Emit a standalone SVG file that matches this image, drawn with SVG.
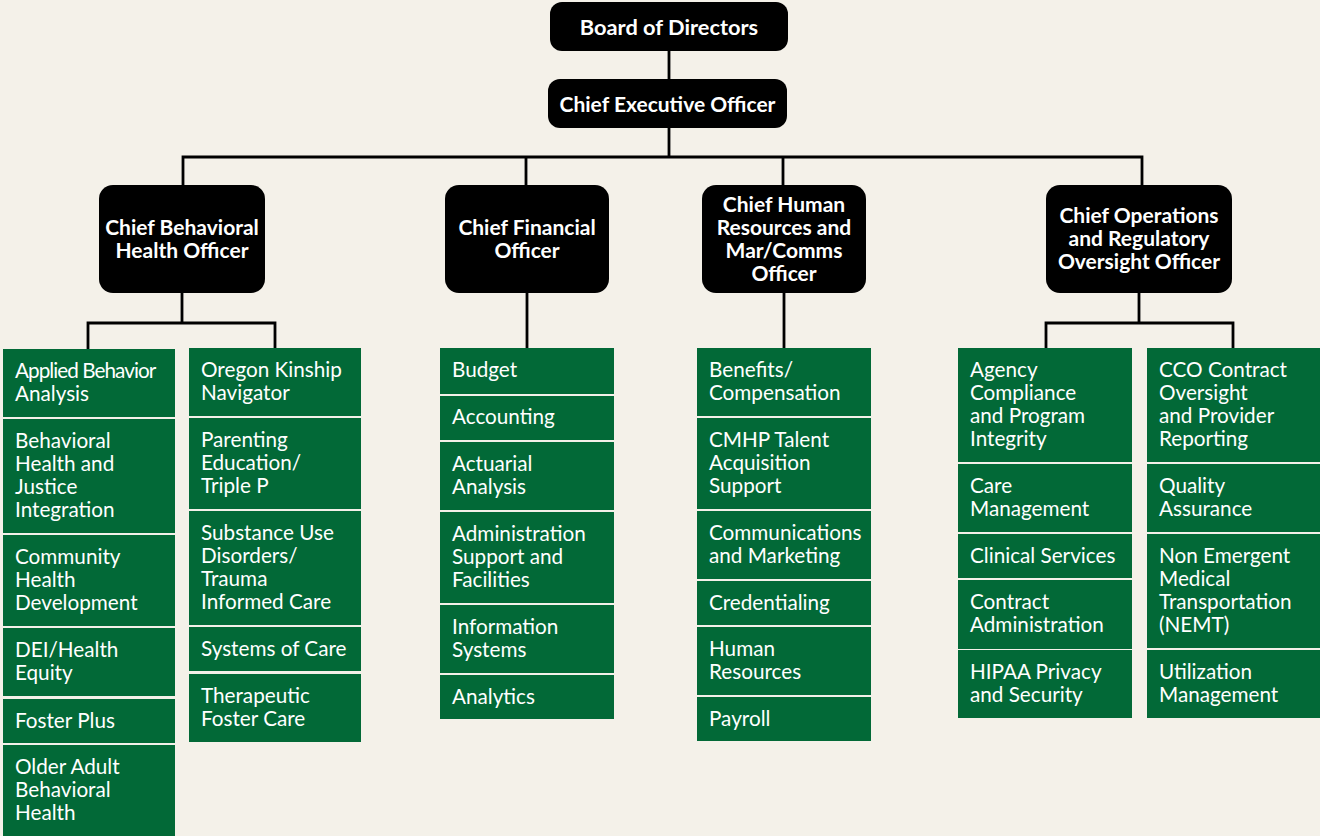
<svg xmlns="http://www.w3.org/2000/svg" width="1320" height="836" viewBox="0 0 1320 836">
<style>
.bg{fill:#F4F1E9}
.exec{fill:#000}
.et{font-family:Lato,"Liberation Sans",sans-serif;font-weight:700;font-size:21px;fill:#fff;text-anchor:middle}
.dept{fill:#026937}
.dt{font-family:Lato,"Liberation Sans",sans-serif;font-weight:400;font-size:20.7px;fill:#fff}
.conn{fill:none;stroke:#000;stroke-width:2.8;stroke-linecap:square;stroke-linejoin:miter}
</style>
<rect class="bg" x="0" y="0" width="1320" height="836"/>
<g id="connectors">
<path class="conn" d="M669 51V79 M669 128V157 M183 157H1142 M183 157V185 M526 157V185 M783 157V185 M1142 157V185"/>
<path class="conn" d="M182 293V323 M88 323H275 M88 323V348 M275 323V348"/>
<path class="conn" d="M527 293V348"/>
<path class="conn" d="M784 293V348"/>
<path class="conn" d="M1139 293V323 M1046 323H1233 M1046 323V348 M1233 323V348"/>
</g>
<g id="board"><rect class="exec" x="550" y="2" width="238" height="49" rx="12"/><text class="et" x="669" y="34.5" style="font-size:21.8px">Board of Directors</text></g>
<g id="ceo"><rect class="exec" x="548" y="79" width="239" height="49" rx="12"/><text class="et" x="667.5" y="111.5">Chief Executive Officer</text></g>
<g id="cbho"><rect class="exec" x="99" y="185" width="166" height="108" rx="14"/><text class="et" x="182" y="235">Chief Behavioral</text><text class="et" x="182" y="258">Health Officer</text></g>
<g id="cfo"><rect class="exec" x="445" y="185" width="164" height="108" rx="14"/><text class="et" x="527" y="235">Chief Financial</text><text class="et" x="527" y="258">Officer</text></g>
<g id="chro"><rect class="exec" x="702" y="185" width="164" height="108" rx="14"/><text class="et" x="784" y="212">Chief Human</text><text class="et" x="784" y="235">Resources and</text><text class="et" x="784" y="258">Mar/Comms</text><text class="et" x="784" y="281">Officer</text></g>
<g id="coro"><rect class="exec" x="1046" y="185" width="186" height="108" rx="14"/><text class="et" x="1139" y="223">Chief Operations</text><text class="et" x="1139" y="246">and Regulatory</text><text class="et" x="1139" y="269">Oversight Officer</text></g>

<g id="aba"><rect class="dept" x="3" y="349" width="172" height="68"/><text class="dt" x="15" y="377.5" letter-spacing="-0.95">Applied Behavior</text><text class="dt" x="15" y="400.5">Analysis</text></g>
<g id="bhji"><rect class="dept" x="3" y="419" width="172" height="114"/><text class="dt" x="15" y="447.5">Behavioral</text><text class="dt" x="15" y="470.5">Health and</text><text class="dt" x="15" y="493.5">Justice</text><text class="dt" x="15" y="516.5">Integration</text></g>
<g id="chd"><rect class="dept" x="3" y="535" width="172" height="91"/><text class="dt" x="15" y="563.5">Community</text><text class="dt" x="15" y="586.5">Health</text><text class="dt" x="15" y="609.5">Development</text></g>
<g id="dei"><rect class="dept" x="3" y="628" width="172" height="68"/><text class="dt" x="15" y="656.5">DEI/Health</text><text class="dt" x="15" y="679.5">Equity</text></g>
<g id="fp"><rect class="dept" x="3" y="699" width="172" height="44"/><text class="dt" x="15" y="727.5">Foster Plus</text></g>
<g id="oabh"><rect class="dept" x="3" y="745" width="172" height="91"/><text class="dt" x="15" y="773.5">Older Adult</text><text class="dt" x="15" y="796.5">Behavioral</text><text class="dt" x="15" y="819.5">Health</text></g>

<g id="okn"><rect class="dept" x="189" y="348" width="172" height="68"/><text class="dt" x="201" y="376.5">Oregon Kinship</text><text class="dt" x="201" y="399.5">Navigator</text></g>
<g id="pe"><rect class="dept" x="189" y="418" width="172" height="91"/><text class="dt" x="201" y="446.5">Parenting</text><text class="dt" x="201" y="469.5">Education/</text><text class="dt" x="201" y="492.5">Triple P</text></g>
<g id="sud"><rect class="dept" x="189" y="511" width="172" height="114"/><text class="dt" x="201" y="539.5">Substance Use</text><text class="dt" x="201" y="562.5">Disorders/</text><text class="dt" x="201" y="585.5">Trauma</text><text class="dt" x="201" y="608.5">Informed Care</text></g>
<g id="soc"><rect class="dept" x="189" y="627" width="172" height="44"/><text class="dt" x="201" y="655.5">Systems of Care</text></g>
<g id="tfc"><rect class="dept" x="189" y="674" width="172" height="68"/><text class="dt" x="201" y="702.5">Therapeutic</text><text class="dt" x="201" y="725.5">Foster Care</text></g>

<g id="budget"><rect class="dept" x="440" y="348" width="174" height="46"/><text class="dt" x="452" y="376.5">Budget</text></g>
<g id="accounting"><rect class="dept" x="440" y="396" width="174" height="44"/><text class="dt" x="452" y="424">Accounting</text></g>
<g id="actuarial"><rect class="dept" x="440" y="442" width="174" height="68"/><text class="dt" x="452" y="470.5">Actuarial</text><text class="dt" x="452" y="493.5">Analysis</text></g>
<g id="admin"><rect class="dept" x="440" y="512" width="174" height="91"/><text class="dt" x="452" y="540.5">Administration</text><text class="dt" x="452" y="563.5">Support and</text><text class="dt" x="452" y="586.5">Facilities</text></g>
<g id="infosys"><rect class="dept" x="440" y="605" width="174" height="68"/><text class="dt" x="452" y="633.5">Information</text><text class="dt" x="452" y="656.5">Systems</text></g>
<g id="analytics"><rect class="dept" x="440" y="675" width="174" height="44"/><text class="dt" x="452" y="703.5">Analytics</text></g>

<g id="benefits"><rect class="dept" x="697" y="348" width="174" height="68"/><text class="dt" x="709" y="376.5">Benefits/</text><text class="dt" x="709" y="399.5">Compensation</text></g>
<g id="cmhp"><rect class="dept" x="697" y="418" width="174" height="91"/><text class="dt" x="709" y="446.5">CMHP Talent</text><text class="dt" x="709" y="469.5">Acquisition</text><text class="dt" x="709" y="492.5">Support</text></g>
<g id="comms"><rect class="dept" x="697" y="511" width="174" height="68"/><text class="dt" x="709" y="539.5">Communications</text><text class="dt" x="709" y="562.5">and Marketing</text></g>
<g id="cred"><rect class="dept" x="697" y="581" width="174" height="44"/><text class="dt" x="709" y="609.5">Credentialing</text></g>
<g id="hr"><rect class="dept" x="697" y="627" width="174" height="68"/><text class="dt" x="709" y="655.5">Human</text><text class="dt" x="709" y="678.5">Resources</text></g>
<g id="payroll"><rect class="dept" x="697" y="697" width="174" height="44"/><text class="dt" x="709" y="725.5">Payroll</text></g>

<g id="acpi"><rect class="dept" x="958" y="348" width="174" height="114"/><text class="dt" x="970" y="376.5">Agency</text><text class="dt" x="970" y="399.5">Compliance</text><text class="dt" x="970" y="422.5">and Program</text><text class="dt" x="970" y="445.5">Integrity</text></g>
<g id="caremgmt"><rect class="dept" x="958" y="464" width="174" height="68"/><text class="dt" x="970" y="492.5">Care</text><text class="dt" x="970" y="515.5">Management</text></g>
<g id="clinical"><rect class="dept" x="958" y="534" width="174" height="44"/><text class="dt" x="970" y="562.5">Clinical Services</text></g>
<g id="contract"><rect class="dept" x="958" y="580" width="174" height="69"/><text class="dt" x="970" y="609">Contract</text><text class="dt" x="970" y="632">Administration</text></g>
<g id="hipaa"><rect class="dept" x="958" y="650" width="174" height="68"/><text class="dt" x="970" y="678.5">HIPAA Privacy</text><text class="dt" x="970" y="701.5">and Security</text></g>

<g id="cco"><rect class="dept" x="1147" y="348" width="174" height="114"/><text class="dt" x="1159" y="376.5">CCO Contract</text><text class="dt" x="1159" y="399.5">Oversight</text><text class="dt" x="1159" y="422.5">and Provider</text><text class="dt" x="1159" y="445.5">Reporting</text></g>
<g id="qa"><rect class="dept" x="1147" y="464" width="174" height="68"/><text class="dt" x="1159" y="492.5">Quality</text><text class="dt" x="1159" y="515.5">Assurance</text></g>
<g id="nemt"><rect class="dept" x="1147" y="534" width="174" height="114"/><text class="dt" x="1159" y="562.5">Non Emergent</text><text class="dt" x="1159" y="585.5">Medical</text><text class="dt" x="1159" y="608.5">Transportation</text><text class="dt" x="1159" y="631.5">(NEMT)</text></g>
<g id="um"><rect class="dept" x="1147" y="650" width="174" height="68"/><text class="dt" x="1159" y="678.5">Utilization</text><text class="dt" x="1159" y="701.5">Management</text></g>
</svg>
